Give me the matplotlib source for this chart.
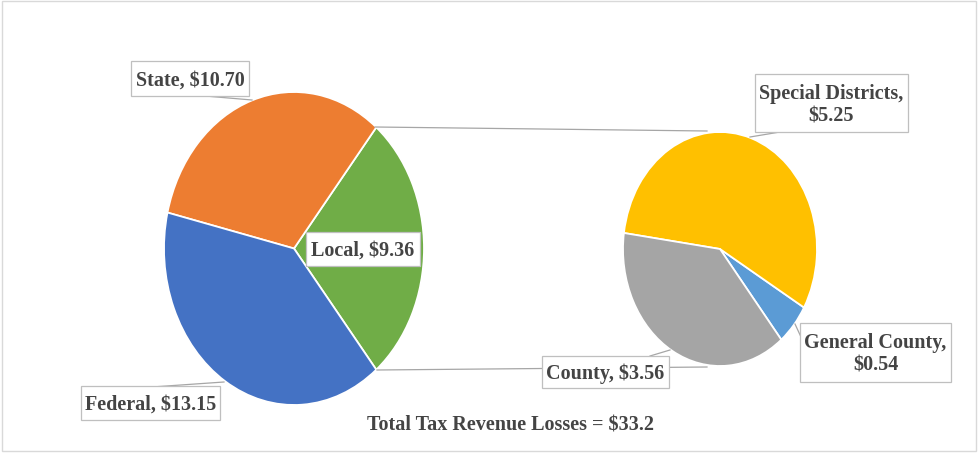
import matplotlib
matplotlib.use("Agg")
import matplotlib.pyplot as plt
from matplotlib.patches import Rectangle

# Tax revenue losses ($ millions) by level of government
main_labels = ["Local", "State", "Federal"]
main_values = [9.36, 10.70, 13.15]
main_colors = ["#70AD47", "#ED7D31", "#4472C4"]

# Breakdown of the local share
sub_labels = ["General County", "Special Districts", "County"]
sub_values = [0.54, 5.25, 3.56]
sub_colors = ["#5B9BD5", "#FFC000", "#A5A5A5"]

W, H = 979, 456
fig = plt.figure(figsize=(W / 100, H / 100), dpi=100)
fig.patch.set_facecolor("white")

FONT = ["Liberation Serif", "DejaVu Serif"]
TXT = "#444444"
EDGE = "#BFBFBF"
LINE = "#A6A6A6"


def px_axes(x0, y0, x1, y1, **kw):
    """Axes placed by pixel box (origin top-left)."""
    return fig.add_axes([x0 / W, (H - y1) / H, (x1 - x0) / W, (y1 - y0) / H], **kw)


# main pie (drawn as an ellipse by letting the axes stretch)
total = sum(main_values)
ax_main = px_axes(164, 93, 424, 406)
ax_main.pie(main_values, colors=main_colors, counterclock=True,
            startangle=-main_values[0] / total * 180,
            wedgeprops=dict(edgecolor="white", linewidth=1.3))
ax_main.set_aspect("auto")
ax_main.set_xlim(-1, 1)
ax_main.set_ylim(-1, 1)
ax_main.axis("off")

# secondary pie
ax_sub = px_axes(623, 133, 817, 367)
ax_sub.pie(sub_values, colors=sub_colors, counterclock=True,
           startangle=-50.8,
           wedgeprops=dict(edgecolor="white", linewidth=1.3))
ax_sub.set_aspect("auto")
ax_sub.set_xlim(-1, 1)
ax_sub.set_ylim(-1, 1)
ax_sub.axis("off")

# overlay in pixel coordinates for connectors, callouts and caption
ov = fig.add_axes([0, 0, 1, 1], zorder=5)
ov.set_xlim(0, W)
ov.set_ylim(H, 0)
ov.axis("off")
ov.patch.set_alpha(0)

# outer frame
ov.add_patch(Rectangle((2, 2), W - 5, H - 6, fill=False, ec="#D9D9D9", lw=1.0))

# connector lines between the pies
ov.plot([375, 707], [128, 132], color=LINE, lw=0.9, zorder=1)
ov.plot([377, 707], [371, 368], color=LINE, lw=0.9, zorder=1)

# callout tails
tails = [
    [(205, 97), (252, 101)],     # State
    [(152, 388), (224, 383)],    # Federal
    [(780, 133), (750, 138)],    # Special Districts
    [(650, 357), (670, 351)],    # County
    [(801, 338), (795, 325)],    # General County
]
for (xa, ya), (xb, yb) in tails:
    ov.plot([xa, xb], [ya, yb], color=LINE, lw=0.9, zorder=1)


def callout(text, box):
    x0, y0, x1, y1 = box
    ov.add_patch(Rectangle((x0, y0), x1 - x0, y1 - y0, fc="white",
                           ec=EDGE, lw=0.9, zorder=3))
    ov.text((x0 + x1) / 2, (y0 + y1) / 2 + 1, text, ha="center", va="center",
            family=FONT, fontweight="bold", fontsize=14.5, color=TXT,
            linespacing=1.15, zorder=4)


main_boxes = {
    "Local": (306, 233, 420, 267),
    "State": (131, 62, 249, 97),
    "Federal": (81, 387, 220, 421),
}
for name, val in zip(main_labels, main_values):
    callout(f"{name}, ${val:.2f}", main_boxes[name])

sub_boxes = {
    "General County": (800, 324, 951, 383),
    "Special Districts": (755, 75, 908, 133),
    "County": (542, 357, 669, 389),
}
for name, val in zip(sub_labels, sub_values):
    sep = "\n" if name != "County" else " "
    callout(f"{name},{sep}${val:.2f}", sub_boxes[name])

ov.text(511, 426, f"Total Tax Revenue Losses = ${total:.1f}", ha="center",
        va="center", family=FONT, fontweight="bold", fontsize=14.5, color=TXT)

fig.savefig("out.png", dpi=100, facecolor="white")
